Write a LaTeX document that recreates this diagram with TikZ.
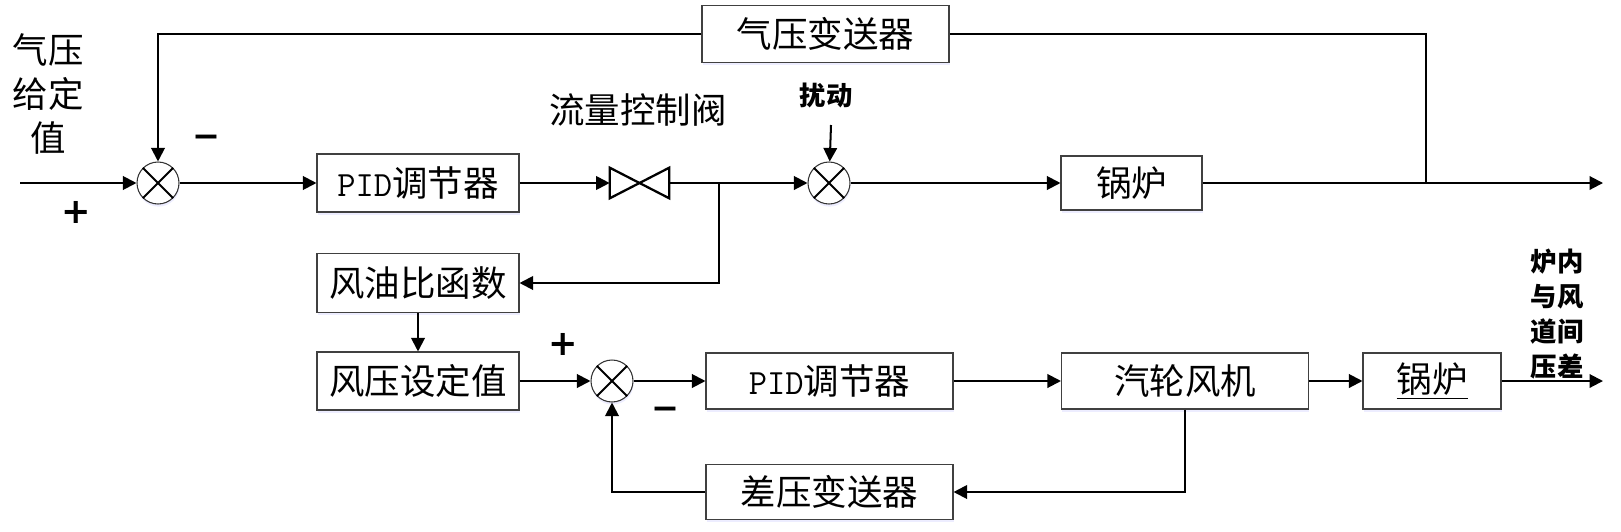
\documentclass[tikz,border=0pt]{standalone}
\usepackage{fontspec}
\newfontfamily\cjk{Noto Sans CJK SC}
\newfontfamily\signfont{DejaVu Sans}
\setmonofont{Latin Modern Mono}
\usepackage{tikz}
\usetikzlibrary{
  arrows.meta,
  shadows
}
\tikzset{
  blockbox/.style={draw=black!75, line width=0.6pt, fill=white, inner sep=0pt,
    drop shadow={shadow xshift=0.3pt, shadow yshift=-1.5pt, opacity=0.18, fill=blue!40},
    font=\fontsize{20.2pt}{24pt}\selectfont\cjk},
  sumnode/.style={circle, draw=black!80, line width=0.6pt, fill=white, minimum size=0.84cm, inner sep=0pt,
    drop shadow={shadow xshift=0.3pt, shadow yshift=-1.5pt, opacity=0.18, fill=blue!40}},
  valvenode/.style={minimum width=1.18cm, minimum height=0.6cm, inner sep=0pt},
  flow/.style={line width=1.15pt, -{Triangle[length=2.7mm,width=2.7mm]}},
  wire/.style={line width=1.15pt},
  bigtext/.style={font=\fontsize{20.2pt}{25pt}\selectfont\cjk, align=center, inner sep=0pt},
  smalltext/.style={font=\fontsize{15pt}{20pt}\selectfont\cjk\bfseries, align=center, inner sep=0pt},
  plustext/.style={font=\fontsize{20pt}{20pt}\selectfont\signfont\bfseries, inner sep=0pt},
  minustext/.style={font=\fontsize{19pt}{19pt}\selectfont\signfont\bfseries, inner sep=0pt}
}
\begin{document}
\begin{tikzpicture}[x=0.02cm, y=-0.02cm]
  \useasboundingbox (0,0) rectangle (1621,531);
  % blocks
  \foreach \name/\x/\y/\w/\h/\txt in {
    ptrans/825.5/34/247/57/气压变送器,
    pidone/418/183/202/58/{{\ttfamily PID}调节器},
    boilone/1131.5/183/141/54/锅炉,
    ratio/418/283/202/59/风油比函数,
    setp/418/381/202/58/风压设定值,
    pidtwo/829.5/381/247/56/{{\ttfamily PID}调节器},
    fan/1185/381/247/56/汽轮风机,
    boiltwo/1432/381/138/56/\underline{锅炉},
    dptrans/829.5/492/247/55/差压变送器}
  {
    \node[blockbox, minimum width={\w*0.02cm}, minimum height={\h*0.02cm}] (\name) at (\x,\y) {\txt};
  }
  % summing points
  \foreach \name/\x/\y in {sumone/158/183, sumtwo/829/183, sumthree/612/381}{
    \node[sumnode] (\name) at (\x,\y) {};
    \draw[wire] (\name.45) -- (\name.225);
    \draw[wire] (\name.135) -- (\name.315);
  }
  % valve
  \node[valvenode] (valve) at (639.5,183) {};
  \draw[line width=1.3pt] (valve.north west) -- (valve.south east) -- (valve.north east) -- (valve.south west) -- cycle;
  % free ends and corners
  \coordinate (inp) at (20,183);
  \coordinate (outone) at (1603,183);
  \coordinate (outtwo) at (1603,381);
  \coordinate (dist) at (831,125);
  \coordinate (tapone) at (1426,183);
  \coordinate (taptwo) at (719,183);
  % upper loop
  \draw[flow] (inp) -- (sumone);
  \draw[flow] (sumone) -- (pidone);
  \draw[flow] (pidone) -- (valve);
  \draw[flow] (valve) -- (sumtwo);
  \draw[flow] (dist) -- (sumtwo);
  \draw[flow] (sumtwo) -- (boilone);
  \draw[flow] (boilone) -- (outone);
  \draw[wire] (tapone) |- (ptrans);
  \draw[flow] (ptrans) -| (sumone);
  \draw[flow] (taptwo) |- (ratio);
  % lower loop
  \draw[flow] (ratio) -- (setp);
  \draw[flow] (setp) -- (sumthree);
  \draw[flow] (sumthree) -- (pidtwo);
  \draw[flow] (pidtwo) -- (fan);
  \draw[flow] (fan) -- (boiltwo);
  \draw[flow] (boiltwo) -- (outtwo);
  \draw[flow] (fan) |- (dptrans);
  \draw[flow] (dptrans) -| (sumthree);
  % labels
  \node[bigtext] (setlabel) at (48,94) {气压\\给定\\值};
  \node[bigtext] (valvelabel) at (638,110) {流量控制阀};
  \node[smalltext] (distlabel) at (826,95) {扰动};
  \node[smalltext] (dplabel) at (1557,314) {炉内\\与风\\道间\\压差};
  \node[plustext] (plusone) at (76.5,212) {+};
  \node[minustext] (minusone) at (206,141.5) {−};
  \node[plustext] (plustwo) at (563,344) {+};
  \node[minustext] (minustwo) at (665,413) {−};
\end{tikzpicture}
\end{document}
